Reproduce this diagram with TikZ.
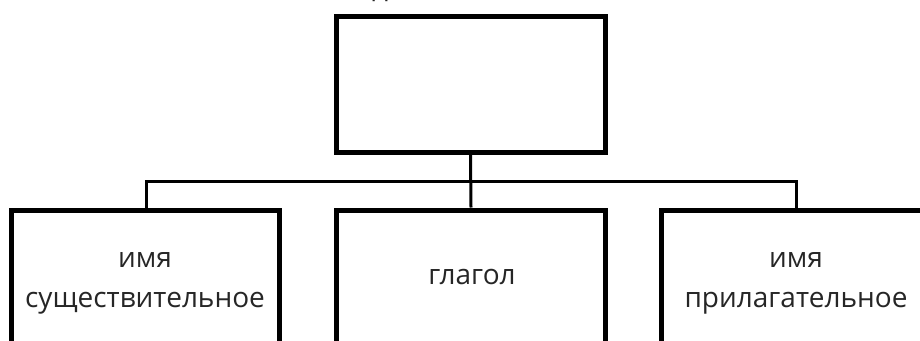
\documentclass[tikz,border=0pt]{standalone}
\usepackage{fontspec}
\setmainfont{Open Sans}
\begin{document}
\begin{tikzpicture}[x=1pt,y=-1pt,
  box/.style={draw=black,line width=5pt,rectangle,inner sep=0pt},
  link/.style={draw=black,line width=3pt},
  lbl/.style={font=\fontsize{28}{40}\selectfont,align=center,text=black!85,inner sep=0pt,anchor=base}]
\clip (0,0) rectangle (920,340);
\useasboundingbox (0,0) rectangle (920,340);
\node[box,minimum width=269pt,minimum height=136pt] (top) at (470.5,84) {};
\node[box,minimum width=268pt,minimum height=180pt] (left) at (145.5,300) {};
\node[box,minimum width=269pt,minimum height=180pt] (mid) at (471,300) {};
\node[box,minimum width=268pt,minimum height=180pt] (right) at (795,300) {};
\node[lbl] (t1) at (145,267) {имя};
\node[lbl] (t2) at (145,307) {существительное};
\node[lbl] (t3) at (472,284) {глагол};
\node[lbl] (t4) at (796,267) {имя};
\node[lbl] (t5) at (796,307) {прилагательное};
\node[lbl] (cut) at (380,-3) {д};
\draw[link] (top.south) -- (mid.north);
\coordinate (busL) at (146,181.5);
\coordinate (busR) at (796,181.5);
\draw[link] (busL |- left.north) -- (busL) -- (busR) -- (busR |- right.north);
\end{tikzpicture}
\end{document}
